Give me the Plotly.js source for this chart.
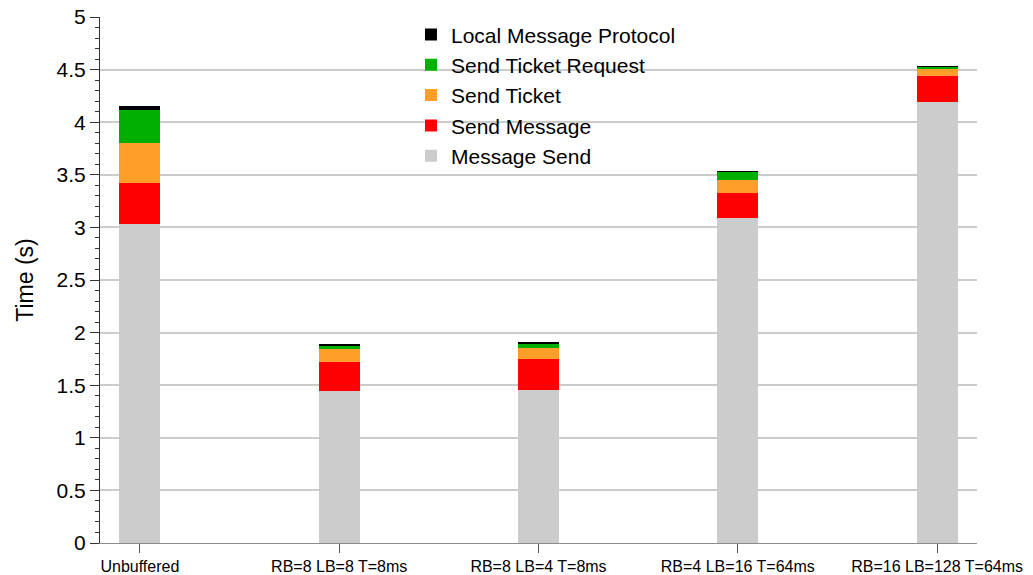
<!DOCTYPE html>
<html>
<head>
<meta charset="utf-8">
<script src="https://cdn.plot.ly/plotly-3.0.1.min.js"></script>
<style>
  html, body { margin: 0; padding: 0; background: #ffffff; }
  #chart { width: 1033px; height: 575px; }
</style>
</head>
<body>
<div id="chart"></div>
<script>
// Buffering configurations compared
const configs = [
  'Unbuffered',
  'RB=8 LB=8 T=8ms',
  'RB=8 LB=4 T=8ms',
  'RB=4 LB=16 T=64ms',
  'RB=16 LB=128 T=64ms'
];

// Time spent per phase, in seconds (stacked bottom to top)
const messageSend          = [3.035, 1.445, 1.454, 3.090, 4.192];
const sendMessage          = [0.390, 0.276, 0.295, 0.237, 0.247];
const sendTicket           = [0.377, 0.123, 0.105, 0.124, 0.067];
const sendTicketRequest    = [0.314, 0.029, 0.038, 0.076, 0.019];
const localMessageProtocol = [0.041, 0.019, 0.019, 0.009, 0.009];

const seriesNames  = ['Message Send', 'Send Message', 'Send Ticket', 'Send Ticket Request', 'Local Message Protocol'];
const seriesValues = [messageSend, sendMessage, sendTicket, sendTicketRequest, localMessageProtocol];
const seriesColors = ['#cccccc', '#ff0000', '#ff9f2a', '#00b000', '#000000'];

const font = 'Liberation Sans, Arial, Helvetica, sans-serif';

const traces = seriesNames.map((name, i) => ({
  type: 'bar',
  name: name,
  x: configs,
  y: seriesValues[i],
  width: 0.205,
  marker: { color: seriesColors[i], line: { width: 0 } },
  hoverinfo: 'x+y+name'
}));

const layout = {
  width: 1033,
  height: 575,
  margin: { l: 100, r: 56, t: 17, b: 32 },
  paper_bgcolor: '#ffffff',
  plot_bgcolor: '#ffffff',
  barmode: 'stack',
  bargap: 0,
  showlegend: true,
  legend: {
    traceorder: 'reversed',
    x: 0.3546,
    xanchor: 'left',
    y: 1.005,
    yanchor: 'top',
    bgcolor: 'rgba(0,0,0,0)',
    borderwidth: 0,
    font: { family: font, size: 21, color: '#000000' },
    itemclick: false
  },
  xaxis: {
    type: 'category',
    range: [-0.2, 4.2],
    showgrid: false,
    showline: true,
    linecolor: '#8c8c8c',
    linewidth: 1,
    ticks: 'outside',
    ticklen: 9,
    tickcolor: '#555555',
    tickwidth: 1,
    tickfont: { family: font, size: 16, color: '#000000' },
    automargin: false,
    fixedrange: true
  },
  yaxis: {
    range: [0, 5],
    dtick: 0.5,
    tick0: 0,
    showgrid: true,
    gridcolor: '#cccccc',
    gridwidth: 1.5,
    zeroline: false,
    showline: true,
    linecolor: '#333333',
    linewidth: 1,
    ticks: 'outside',
    ticklen: 9,
    tickcolor: '#333333',
    tickwidth: 1,
    tickfont: { family: font, size: 21, color: '#000000' },
    minor: { dtick: 0.1, ticks: 'outside', ticklen: 4, tickcolor: '#333333', showgrid: false },
    title: { text: 'Time (s)', font: { family: font, size: 23, color: '#000000' }, standoff: 16 },
    automargin: false,
    fixedrange: true
  }
};

Plotly.newPlot('chart', traces, layout, { displayModeBar: false });
</script>
</body>
</html>
